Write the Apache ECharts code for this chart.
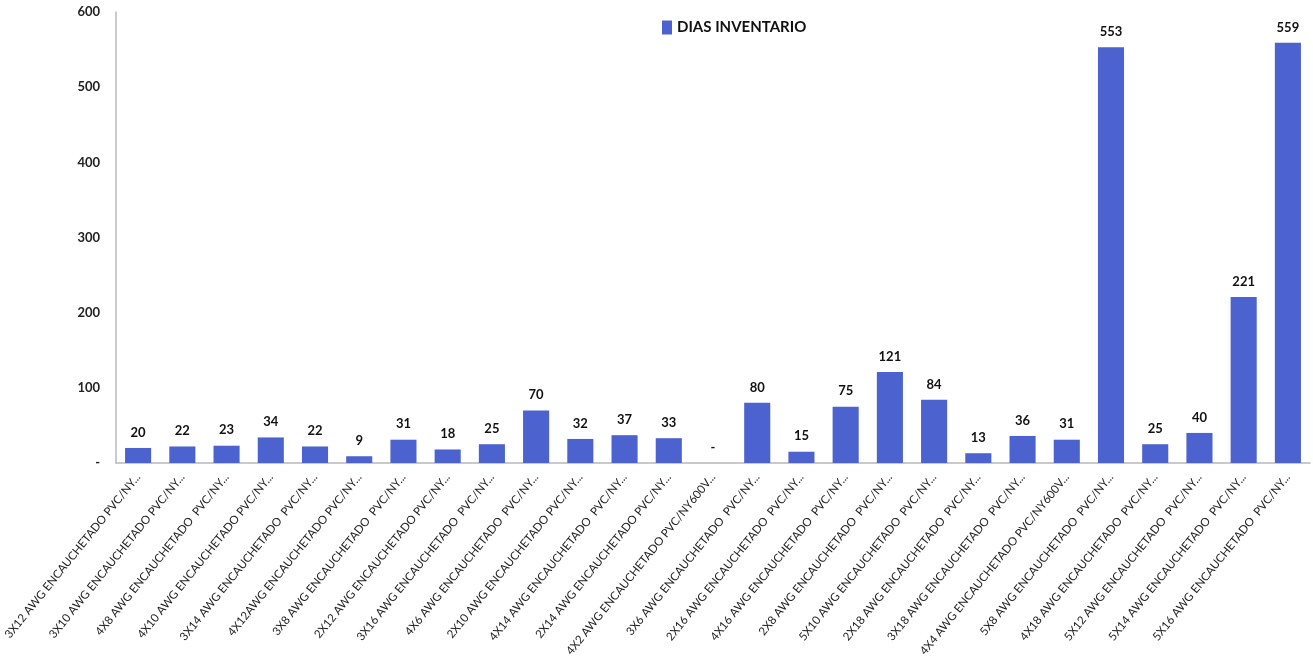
<!DOCTYPE html>
<html>
<head>
<meta charset="utf-8">
<script src="https://cdn.jsdelivr.net/npm/echarts@6/dist/echarts.min.js"></script>
<style>
  html, body { margin: 0; padding: 0; background: #ffffff; }
  #chart { width: 1313px; height: 660px; }
</style>
</head>
<body>
<div id="chart"></div>
<script>
// Cable references (labels as shortened in the inventory report)
const categories = [
  '3X12 AWG ENCAUCHETADO PVC/NY...',
  '3X10 AWG ENCAUCHETADO PVC/NY...',
  '4X8 AWG ENCAUCHETADO  PVC/NY...',
  '4X10 AWG ENCAUCHETADO PVC/NY...',
  '3X14 AWG ENCAUCHETADO  PVC/NY...',
  '4X12AWG ENCAUCHETADO PVC/NY...',
  '3X8 AWG ENCAUCHETADO  PVC/NY...',
  '2X12 AWG ENCAUCHETADO PVC/NY...',
  '3X16 AWG ENCAUCHETADO  PVC/NY...',
  '4X6 AWG ENCAUCHETADO  PVC/NY...',
  '2X10 AWG ENCAUCHETADO PVC/NY...',
  '4X14 AWG ENCAUCHETADO  PVC/NY...',
  '2X14 AWG ENCAUCHETADO PVC/NY...',
  '4X2 AWG ENCAUCHETADO PVC/NY600V...',
  '3X6 AWG ENCAUCHETADO  PVC/NY...',
  '2X16 AWG ENCAUCHETADO  PVC/NY...',
  '4X16 AWG ENCAUCHETADO  PVC/NY...',
  '2X8 AWG ENCAUCHETADO  PVC/NY...',
  '5X10 AWG ENCAUCHETADO  PVC/NY...',
  '2X18 AWG ENCAUCHETADO  PVC/NY...',
  '3X18 AWG ENCAUCHETADO  PVC/NY...',
  '4X4 AWG ENCAUCHETADO PVC/NY600V...',
  '5X8 AWG ENCAUCHETADO  PVC/NY...',
  '4X18 AWG ENCAUCHETADO  PVC/NY...',
  '5X12 AWG ENCAUCHETADO  PVC/NY...',
  '5X14 AWG ENCAUCHETADO  PVC/NY...',
  '5X16 AWG ENCAUCHETADO  PVC/NY...'
];

// Days of inventory per reference
const diasInventario = [
  20, 22, 23, 34, 22, 9, 31, 18, 25, 70, 32, 37, 33, 0,
  80, 15, 75, 121, 84, 13, 36, 31, 553, 25, 40, 221, 559
];

const seriesName = 'DIAS INVENTARIO';
const yMin = 0, yMax = 600, yStep = 100;

const chart = echarts.init(document.getElementById('chart'), null, { renderer: 'canvas' });

const fmt = v => (v === 0 ? '-' : String(v));

chart.setOption({
  animation: false,
  backgroundColor: '#ffffff',
  textStyle: { fontFamily: 'Lato' },
  legend: {
    data: [seriesName],
    left: 657,
    top: 15,
    icon: 'rect',
    itemWidth: 10,
    itemHeight: 14,
    itemGap: 5,
    textStyle: { fontFamily: 'Lato', fontWeight: 'bold', fontSize: 15, color: '#111111' }
  },
  grid: {
    left: 116, right: 3, top: 12, bottom: 197,
    containLabel: false,
    outerBoundsMode: 'none'
  },
  xAxis: {
    type: 'category',
    data: categories,
    axisLine: { show: true, lineStyle: { color: '#b8b8b8', width: 1.5 } },
    axisTick: { show: false },
    axisLabel: {
      interval: 0,
      rotate: 51,
      margin: 12,
      fontFamily: 'Lato',
      fontSize: 11.5,
      color: '#222222'
    }
  },
  yAxis: {
    type: 'value',
    min: yMin,
    max: yMax,
    interval: yStep,
    axisLine: { show: true, lineStyle: { color: '#b8b8b8', width: 1.5 } },
    axisTick: { show: false },
    splitLine: { show: false },
    axisLabel: {
      formatter: fmt,
      margin: 16,
      fontFamily: 'Lato',
      fontWeight: 'bold',
      fontSize: 13,
      color: '#222222'
    }
  },
  series: [{
    name: seriesName,
    type: 'bar',
    data: diasInventario,
    barCategoryGap: '41%',
    itemStyle: { color: '#4b62cf' },
    label: {
      show: true,
      position: 'top',
      distance: 9,
      formatter: p => fmt(p.value),
      fontFamily: 'Lato',
      fontWeight: 'bold',
      fontSize: 13,
      color: '#111111'
    }
  }]
});
</script>
</body>
</html>
